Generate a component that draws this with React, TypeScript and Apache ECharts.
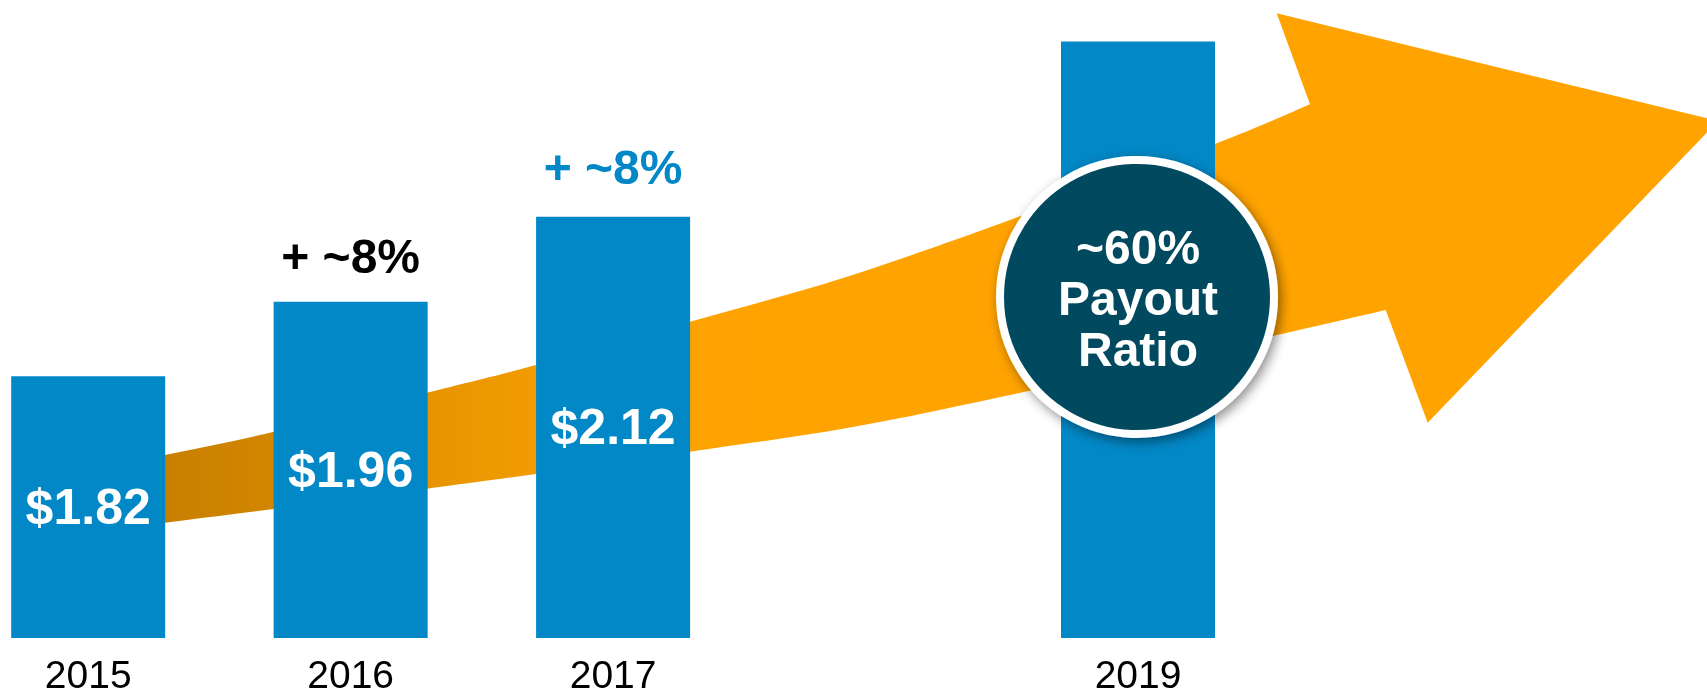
import React, { useEffect, useRef } from "react";
import * as echarts from "echarts";

// ---- data ----
const years = [2015, 2016, 2017, 2019];
const dividends = [1.82, 1.96, 2.12, 2.45];
const dividendLabels = ["$1.82", "$1.96", "$2.12", ""];
const growthYears = [2016, 2017];
const growthBase = [1.96, 2.12];
const growthLabels = ["+ ~8%", "+ ~8%"];
const growthColors = ["#000000", "#0288c6"];
const payoutLines = ["~60%", "Payout", "Ratio"];

// ---- decoration geometry (pixel space) ----
const arrowTopEdge = [
  [40, 480], [165, 455], [274, 431.7], [427, 392.7], [536, 365],
  [690, 321.7], [847, 276.7], [1010, 220], [1215, 144], [1310, 104.3],
];
const arrowBottomEdge = [
  [40, 538], [165, 522.7], [274, 509], [427, 488.7], [536, 474],
  [690, 451.7], [847, 428], [1010, 395], [1277, 335], [1385.7, 310],
];
const arrowHead = [[1276.7, 13.3], [1718, 121], [1427.7, 422.7]];

const FONT = '"Liberation Sans", Arial, Helvetica, sans-serif';
const BLUE = "#0288c6";

function curveThrough(pts: number[][]): string {
  let d = "";
  for (let i = 0; i < pts.length - 1; i++) {
    const p0 = pts[i - 1] || pts[i];
    const p1 = pts[i];
    const p2 = pts[i + 1];
    const p3 = pts[i + 2] || pts[i + 1];
    const c1x = p1[0] + (p2[0] - p0[0]) / 6;
    const c1y = p1[1] + (p2[1] - p0[1]) / 6;
    const c2x = p2[0] - (p3[0] - p1[0]) / 6;
    const c2y = p2[1] - (p3[1] - p1[1]) / 6;
    d += ` C ${c1x} ${c1y} ${c2x} ${c2y} ${p2[0]} ${p2[1]}`;
  }
  return d;
}

function buildArrowPath(): string {
  const top = arrowTopEdge;
  const bottomRev = [...arrowBottomEdge].reverse();
  let d = `M ${top[0][0]} ${top[0][1]}`;
  d += curveThrough(top);
  arrowHead.forEach((p) => (d += ` L ${p[0]} ${p[1]}`));
  d += ` L ${bottomRev[0][0]} ${bottomRev[0][1]}`;
  d += curveThrough(bottomRev);
  d += " Z";
  return d;
}

echarts.graphic.registerShape(
  "payoutArrow",
  echarts.graphic.extendPath(buildArrowPath(), {}) as any
);

export default function App() {
  const ref = useRef<HTMLDivElement>(null);

  useEffect(() => {
    document.body.style.margin = "0";
    if (!ref.current) return;
    const chart = echarts.init(ref.current, null, { renderer: "svg" });

    const arrowFill = new echarts.graphic.LinearGradient(
      100, 0, 800, 0,
      [
        { offset: 0, color: "#c27b00" },
        { offset: 0.28, color: "#d58800" },
        { offset: 0.54, color: "#ec9800" },
        { offset: 0.78, color: "#fca200" },
        { offset: 1, color: "#ffa300" },
      ],
      true
    );

    chart.setOption({
      animation: false,
      grid: { left: 0, right: 0, top: 15, bottom: 59 },
      xAxis: {
        type: "value",
        min: 2014.664,
        max: 2021.168,
        axisLine: { show: false },
        axisTick: { show: false },
        splitLine: { show: false },
        axisLabel: {
          customValues: years,
          formatter: (v: number) => (years.includes(v) ? String(v) : ""),
          color: "#000",
          fontSize: 39,
          fontFamily: FONT,
          margin: 17,
        },
      },
      yAxis: {
        type: "value",
        min: 1.327,
        max: 2.5,
        show: false,
      },
      graphic: [
        {
          type: "payoutArrow",
          x: 0,
          y: 0,
          z: 1,
          silent: true,
          style: { fill: arrowFill },
        },
        {
          type: "group",
          z: 100,
          silent: true,
          children: [
            {
              type: "circle",
              z: 100,
              shape: { cx: 1137, cy: 297, r: 137 },
              style: {
                fill: "#03495e",
                stroke: "#ffffff",
                lineWidth: 8,
                shadowBlur: 12,
                shadowOffsetX: 3,
                shadowOffsetY: 4,
                shadowColor: "rgba(0,0,0,0.45)",
              },
            },
            {
              type: "text",
              z: 101,
              x: 1138,
              y: 298,
              style: {
                text: payoutLines.join("\n"),
                fill: "#ffffff",
                fontSize: 48,
                fontWeight: "bold",
                fontFamily: FONT,
                lineHeight: 51,
                align: "center",
                verticalAlign: "middle",
              },
            },
          ],
        },
      ],
      series: [
        {
          type: "bar",
          z: 2,
          barWidth: 154,
          itemStyle: { color: BLUE },
          label: {
            show: true,
            position: "inside",
            formatter: (p: any) => dividendLabels[p.dataIndex],
            color: "#ffffff",
            fontSize: 50,
            fontWeight: "bold",
            fontFamily: FONT,
          },
          data: years.map((y, i) => ({
            value: [y, dividends[i]],
            label: { show: dividendLabels[i] !== "" },
          })),
        },
        {
          type: "scatter",
          z: 3,
          symbolSize: 1,
          itemStyle: { color: "rgba(0,0,0,0)", opacity: 1 },
          silent: true,
          data: growthYears.map((y, i) => ({
            value: [y, growthBase[i]],
            label: {
              show: true,
              position: "top",
              distance: i === 0 ? 21 : 25,
              formatter: growthLabels[i],
              color: growthColors[i],
              fontSize: 48,
              fontWeight: "bold",
              fontFamily: FONT,
            },
          })),
        },
      ],
    });

    return () => chart.dispose();
  }, []);

  return (
    <div
      ref={ref}
      style={{ position: "fixed", left: 0, top: 0, width: 1707, height: 697 }}
    />
  );
}
